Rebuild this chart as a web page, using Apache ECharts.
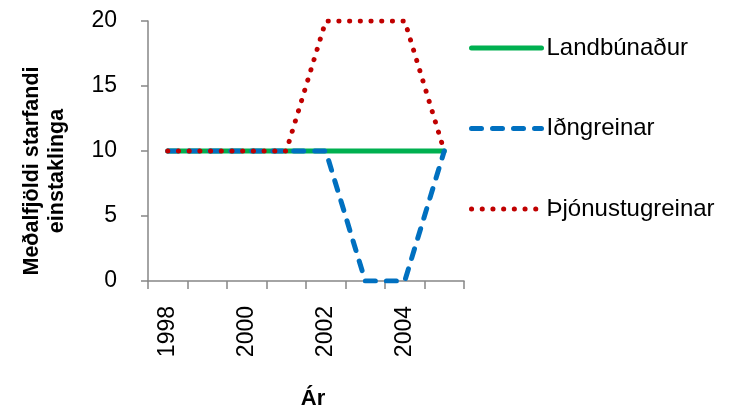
<!DOCTYPE html>
<html><head><meta charset="utf-8">
<script src="https://cdn.jsdelivr.net/npm/echarts@6/dist/echarts.min.js"></script>
<style>html,body{margin:0;padding:0;background:#fff}#c{width:732px;height:406px}</style>
</head><body><div id="c"></div>
<script>
const years = ['1998','1999','2000','2001','2002','2003','2004','2005'];
const landbunadur = [10,10,10,10,10,10,10,10];
const idngreinar = [10,10,10,10,10,0,0,10];
const thjonusta = [10,10,10,10,20,20,20,10];
const yTicks = [0,5,10,15,20];

const chart = echarts.init(document.getElementById('c'), null, {renderer:'canvas'});
const F = 'Liberation Sans';
chart.setOption({
  animation:false,
  backgroundColor:'#fff',
  grid:{left:148,right:268,top:21,bottom:125,containLabel:false,outerBoundsMode:'none'},
  xAxis:{
    type:'category', data:years, boundaryGap:true,
    name:'Ár', nameLocation:'middle', nameGap:107,
    nameTextStyle:{fontFamily:F,fontSize:22,fontWeight:'bold',color:'#000',padding:[0,0,0,14]},
    axisLine:{lineStyle:{color:'#868686',width:1.5}},
    axisTick:{show:true,alignWithLabel:false,interval:0,length:8,lineStyle:{color:'#868686',width:1.5}},
    axisLabel:{interval:1,rotate:90,margin:25,fontFamily:F,fontSize:23,color:'#000'},
    splitLine:{show:false}
  },
  yAxis:{
    type:'value', min:yTicks[0], max:yTicks[yTicks.length-1], interval:5,
    name:'Meðalfjöldi starfandi\neinstaklinga', nameLocation:'middle', nameGap:78, nameRotate:90,
    nameTextStyle:{fontFamily:F,fontSize:21.5,fontWeight:'bold',color:'#000',lineHeight:25,padding:[0,40,0,0]},
    axisLine:{show:true,lineStyle:{color:'#868686',width:1.5}},
    axisTick:{show:true,length:7,lineStyle:{color:'#868686',width:1.5}},
    axisLabel:{margin:31,fontFamily:F,fontSize:23,color:'#000'},
    splitLine:{show:false}
  },
  legend:{
    orient:'vertical', left:469, top:36, padding:0, itemWidth:70, itemHeight:14, itemGap:56.5,
    textStyle:{fontFamily:F,fontSize:24,color:'#000',lineHeight:24},
    itemStyle:{opacity:0},
    lineStyle:{width:5},
    data:['Landbúnaður','Iðngreinar','Þjónustugreinar']
  },
  series:[
    {name:'Landbúnaður',type:'line',data:landbunadur,symbol:'none',
     lineStyle:{color:'#00B050',width:5,cap:'round'},itemStyle:{color:'#00B050'}},
    {name:'Iðngreinar',type:'line',data:idngreinar,symbol:'none',
     lineStyle:{color:'#0070C0',width:5,type:[10,11],cap:'round'},itemStyle:{color:'#0070C0'}},
    {name:'Þjónustugreinar',type:'line',data:thjonusta,symbol:'none',
     lineStyle:{color:'#C00000',width:5,type:[0.1,10.6],cap:'round'},itemStyle:{color:'#C00000'}}
  ]
});
</script></body></html>
